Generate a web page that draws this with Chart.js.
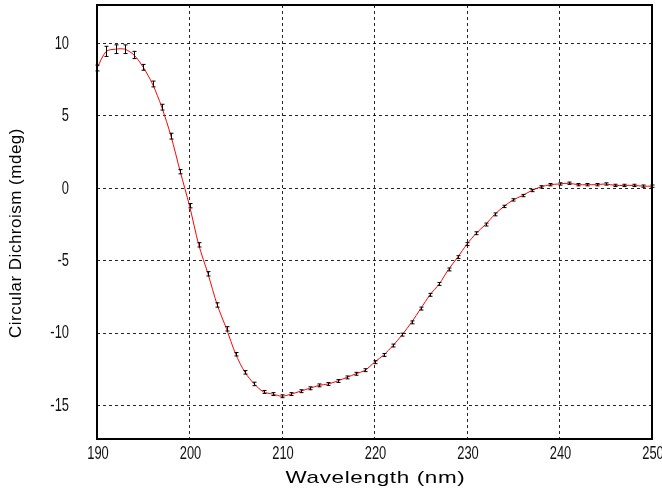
<!DOCTYPE html>
<html>
<head>
<meta charset="utf-8">
<script src="https://cdn.jsdelivr.net/npm/chart.js@4/dist/chart.umd.min.js"></script>
<style>
  html, body { margin: 0; padding: 0; background: #fff; }
  #wrap { width: 662px; height: 488px; }
</style>
</head>
<body>
<div id="wrap"><canvas id="cd" width="662" height="488"></canvas></div>
<script>
// CD spectrum, one reading per nm
const wavelengths = [
  190, 191, 192, 193, 194, 195, 196, 197, 198, 199,
  200, 201, 202, 203, 204, 205, 206, 207, 208, 209,
  210, 211, 212, 213, 214, 215, 216, 217, 218, 219,
  220, 221, 222, 223, 224, 225, 226, 227, 228, 229,
  230, 231, 232, 233, 234, 235, 236, 237, 238, 239,
  240, 241, 242, 243, 244, 245, 246, 247, 248, 249, 250,
];

const ellipticity = [
  8.3, 9.45, 9.6, 9.6, 9.2, 8.35, 7.2, 5.6, 3.6, 1.15,
  -1.2, -3.9, -5.9, -8.05, -9.7, -11.45, -12.7, -13.5, -14.05, -14.2,
  -14.35, -14.2, -14.0, -13.8, -13.6, -13.5, -13.3, -13.05, -12.8, -12.55,
  -12.0, -11.5, -10.85, -10.1, -9.25, -8.3, -7.35, -6.6, -5.6, -4.75,
  -3.85, -3.1, -2.5, -1.8, -1.25, -0.8, -0.5, -0.15, 0.1, 0.25,
  0.3, 0.35, 0.25, 0.25, 0.25, 0.3, 0.2, 0.2, 0.2, 0.15, 0.15,
];

// standard deviation of the repeat scans
const ellipticityErr = [
  0.2, 0.35, 0.3, 0.3, 0.25, 0.2, 0.2, 0.2, 0.2, 0.15,
  0.15, 0.15, 0.15, 0.15, 0.15, 0.12, 0.12, 0.12, 0.1, 0.1,
  0.1, 0.1, 0.1, 0.1, 0.1, 0.1, 0.1, 0.1, 0.1, 0.1,
  0.1, 0.1, 0.1, 0.1, 0.1, 0.1, 0.1, 0.1, 0.1, 0.1,
  0.1, 0.1, 0.1, 0.1, 0.08, 0.08, 0.08, 0.08, 0.08, 0.08,
  0.08, 0.08, 0.08, 0.08, 0.08, 0.08, 0.08, 0.08, 0.08, 0.08, 0.08,
];

const yTicks = [-15, -10, -5, 0, 5, 10];
const xTitle = "Wavelength (nm)";
const yTitle = "Circular Dichroism (mdeg)";

const errorBars = {
  id: "errorBars",
  afterDatasetsDraw(chart) {
    const { ctx } = chart;
    const xs = chart.scales.x;
    const ys = chart.scales.y;
    ctx.save();
    ctx.strokeStyle = "#000";
    ctx.lineWidth = 1;
    ellipticity.forEach((v, i) => {
      const px = Math.round(xs.getPixelForValue(wavelengths[i])) + 0.5;
      const top = ys.getPixelForValue(v + ellipticityErr[i]);
      const bot = ys.getPixelForValue(v - ellipticityErr[i]);
      ctx.beginPath();
      ctx.moveTo(px, top);
      ctx.lineTo(px, bot);
      ctx.moveTo(px - 2, top);
      ctx.lineTo(px + 2, top);
      ctx.moveTo(px - 2, bot);
      ctx.lineTo(px + 2, bot);
      ctx.stroke();
    });
    ctx.restore();
  },
};

// condensed tick numbers: squeeze the glyphs horizontally
const narrowText = (ctx, text, x, y, align) => {
  ctx.save();
  ctx.translate(x, y);
  ctx.scale(0.68, 1);
  ctx.textAlign = align;
  ctx.fillText(text, 0, 0);
  ctx.restore();
};

// black box around the plot, tick numbers and the two axis titles
const frame = {
  id: "frame",
  afterDraw(chart) {
    const { ctx, chartArea: a } = chart;
    const xs = chart.scales.x;
    const ys = chart.scales.y;
    ctx.save();
    ctx.strokeStyle = "#000";
    ctx.lineWidth = 2;
    ctx.strokeRect(a.left, a.top, a.right - a.left, a.bottom - a.top);

    ctx.fillStyle = "#111";
    ctx.font = "19px 'Liberation Sans', Arial, sans-serif";
    ctx.textBaseline = "middle";
    xs.ticks.forEach((t) => {
      narrowText(ctx, String(t.value), xs.getPixelForValue(t.value) + 1, a.bottom + 15, "center");
    });
    ys.ticks.forEach((t) => {
      narrowText(ctx, String(t.value), 69, ys.getPixelForValue(t.value), "right");
    });

    ctx.fillStyle = "#000";
    ctx.font = "17px 'Liberation Sans', Arial, sans-serif";
    ctx.textAlign = "center";
    ctx.letterSpacing = "0.5px";

    ctx.save();
    ctx.translate((a.left + a.right) / 2 + 1, 478);
    ctx.scale(1.32, 1);
    ctx.fillText(xTitle, 0, 0);
    ctx.restore();

    ctx.save();
    ctx.translate(16, 233);
    ctx.rotate(-Math.PI / 2);
    ctx.fillText(yTitle, 0, 0);
    ctx.restore();
    ctx.restore();
  },
};

const gridStyle = {
  color: "rgba(0,0,0,0.85)",
  lineWidth: 1,
  drawTicks: false,
};

new Chart(document.getElementById("cd").getContext("2d"), {
  type: "line",
  data: {
    datasets: [
      {
        data: wavelengths.map((w, i) => ({ x: w, y: ellipticity[i] })),
        borderColor: "#ff0000",
        borderWidth: 1,
        pointRadius: 0,
        tension: 0.3,
        fill: false,
      },
    ],
  },
  options: {
    responsive: false,
    animation: false,
    layout: { padding: { top: 5, right: 10, left: 0, bottom: 0 } },
    plugins: { legend: { display: false }, tooltip: { enabled: false } },
    scales: {
      x: {
        type: "linear",
        min: 190,
        max: 250,
        grid: gridStyle,
        border: { display: false, dash: [3, 3] },
        ticks: { stepSize: 10, display: false },
        afterFit(scale) {
          scale.height = 49;
          scale.paddingLeft = 0;
          scale.paddingRight = 0;
        },
      },
      y: {
        min: -17.3,
        max: 12.65,
        grid: gridStyle,
        border: { display: false, dash: [3, 3] },
        afterBuildTicks(scale) {
          scale.ticks = yTicks.map((v) => ({ value: v }));
        },
        ticks: { display: false },
        afterFit(scale) {
          scale.width = 97;
          scale.paddingTop = 0;
          scale.paddingBottom = 0;
        },
      },
    },
  },
  plugins: [errorBars, frame],
});
</script>
</body>
</html>
